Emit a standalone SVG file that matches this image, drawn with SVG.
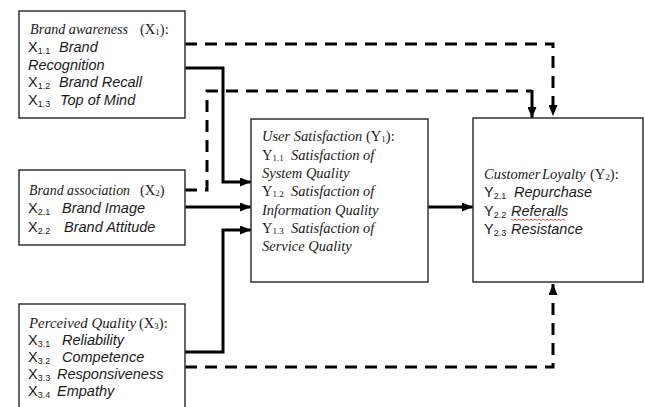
<svg xmlns="http://www.w3.org/2000/svg" width="645" height="407" viewBox="0 0 645 407">
<defs>
<marker id="ah" markerUnits="userSpaceOnUse" markerWidth="11" markerHeight="9" refX="11" refY="4.5" orient="auto">
<path d="M0,0 L11,4.5 L0,9 z" fill="#000"/>
</marker>
<style>
.box{fill:#fff;stroke:#333;stroke-width:1.5}
.c{fill:none;stroke:#000;stroke-width:3}
.d{fill:none;stroke:#000;stroke-width:3;stroke-dasharray:12 8}
text{fill:#1a1a1a}
.ti{font-family:"Liberation Serif","Times New Roman",serif;font-style:italic;font-size:14.5px}
.tr{font-family:"Liberation Serif","Times New Roman",serif;font-size:14.5px}
.si{font-family:"Liberation Sans",Arial,sans-serif;font-style:italic;font-size:14.5px}
.sr{font-family:"Liberation Sans",Arial,sans-serif;font-size:14.5px}
.sub{font-size:9px}
</style>
</defs>
<rect width="645" height="407" fill="#fff"/>

<g id="connectors">
<path class="d" d="M185,44 H553 V116" marker-end="url(#ah)"/>
<path class="d" d="M185,190 H207 V91 H532"/>
<path class="c" d="M532,90 V118" marker-end="url(#ah)"/>
<path class="c" d="M185,68 H223 V182 H251" marker-end="url(#ah)"/>
<path class="c" d="M185,207 H251" marker-end="url(#ah)"/>
<path class="c" d="M185,352 H223 V230 H251" marker-end="url(#ah)"/>
<path class="c" d="M428,207 H473" marker-end="url(#ah)"/>
<path class="d" d="M185,367 H553 V284" marker-end="url(#ah)"/>
</g>

<g id="x1">
<rect class="box" x="19" y="11" width="166" height="107"/>
<text y="34"><tspan x="30" class="ti" textLength="98" lengthAdjust="spacingAndGlyphs">Brand awareness</tspan><tspan x="140" class="tr">(X<tspan class="sub" dy="1">1</tspan><tspan dy="-1">):</tspan></tspan></text>
<text y="52" class="sr"><tspan x="28">X</tspan><tspan class="sub" dy="2">1.1</tspan><tspan x="59" dy="-2" class="si">Brand</tspan></text>
<text y="70" x="28" class="si">Recognition</text>
<text y="87" class="sr"><tspan x="28">X</tspan><tspan class="sub" dy="2">1.2</tspan><tspan x="59" dy="-2" class="si">Brand Recall</tspan></text>
<text y="105" class="sr"><tspan x="28">X</tspan><tspan class="sub" dy="2">1.3</tspan><tspan x="60" dy="-2" class="si">Top of Mind</tspan></text>
</g>

<g id="x2">
<rect class="box" x="19" y="170" width="166" height="75"/>
<text y="195"><tspan x="29" class="ti" textLength="101" lengthAdjust="spacingAndGlyphs">Brand association</tspan><tspan x="140" class="tr">(X<tspan class="sub" dy="1">2</tspan><tspan dy="-1">)</tspan></tspan></text>
<text y="213" class="sr"><tspan x="28">X</tspan><tspan class="sub" dy="2">2.1</tspan><tspan x="62" dy="-2" class="si">Brand Image</tspan></text>
<text y="232" class="sr"><tspan x="28">X</tspan><tspan class="sub" dy="2">2.2</tspan><tspan x="64" dy="-2" class="si">Brand Attitude</tspan></text>
</g>

<g id="x3">
<rect class="box" x="19" y="304" width="166" height="110"/>
<text y="328"><tspan x="29" class="ti" textLength="107" lengthAdjust="spacingAndGlyphs">Perceived Quality</tspan><tspan x="139" class="tr">(X<tspan class="sub" dy="1">3</tspan><tspan dy="-1">):</tspan></tspan></text>
<text y="345" class="sr"><tspan x="28">X</tspan><tspan class="sub" dy="2">3.1</tspan><tspan x="62" dy="-2" class="si">Reliability</tspan></text>
<text y="362" class="sr"><tspan x="28">X</tspan><tspan class="sub" dy="2">3.2</tspan><tspan x="62" dy="-2" class="si">Competence</tspan></text>
<text y="379" class="sr"><tspan x="28">X</tspan><tspan class="sub" dy="2">3.3</tspan><tspan x="57" dy="-2" class="si">Responsiveness</tspan></text>
<text y="396" class="sr"><tspan x="28">X</tspan><tspan class="sub" dy="2">3.4</tspan><tspan x="57" dy="-2" class="si">Empathy</tspan></text>
</g>

<g id="y1">
<rect class="box" x="251" y="119" width="177" height="163"/>
<text y="141"><tspan x="262" class="ti">User Satisfaction</tspan><tspan x="366" class="tr">(Y<tspan class="sub" dy="1">1</tspan><tspan dy="-1">):</tspan></tspan></text>
<text y="160" class="tr"><tspan x="262">Y</tspan><tspan class="sub" dy="1">1.1</tspan><tspan x="291" dy="-1" class="ti">Satisfaction of</tspan></text>
<text y="178" x="262" class="ti">System Quality</text>
<text y="196" class="tr"><tspan x="262">Y</tspan><tspan class="sub" dy="1">1.2</tspan><tspan x="291" dy="-1" class="ti">Satisfaction of</tspan></text>
<text y="215" x="262" class="ti">Information Quality</text>
<text y="233" class="tr"><tspan x="262">Y</tspan><tspan class="sub" dy="1">1.3</tspan><tspan x="291" dy="-1" class="ti">Satisfaction of</tspan></text>
<text y="251" x="262" class="ti">Service Quality</text>
</g>

<g id="y2">
<rect class="box" x="473" y="118" width="170" height="164"/>
<text y="179"><tspan x="484" class="ti">Customer</tspan><tspan x="542" class="ti">Loyalty</tspan><tspan x="590" class="tr">(Y<tspan class="sub" dy="1">2</tspan><tspan dy="-1">):</tspan></tspan></text>
<text y="197" class="sr"><tspan x="484">Y</tspan><tspan class="sub" dy="2">2.1</tspan><tspan x="514" dy="-2" class="si">Repurchase</tspan></text>
<text y="216" class="sr"><tspan x="484">Y</tspan><tspan class="sub" dy="2">2.2</tspan><tspan x="511" dy="-2" class="si">Referalls</tspan></text>
<path d="M511,219 l2,1.5 l2,-1.5 l2,1.5 l2,-1.5 l2,1.5 l2,-1.5 l2,1.5 l2,-1.5 l2,1.5 l2,-1.5 l2,1.5 l2,-1.5 l2,1.5 l2,-1.5 l2,1.5 l2,-1.5 l2,1.5 l2,-1.5 l2,1.5 l2,-1.5 l2,1.5 l2,-1.5 l2,1.5 l2,-1.5 l2,1.5 l2,-1.5 l2,1.5" fill="none" stroke="#e03030" stroke-width="0.8"/>
<text y="234" class="sr"><tspan x="484">Y</tspan><tspan class="sub" dy="2">2.3</tspan><tspan x="511" dy="-2" class="si">Resistance</tspan></text>
</g>
</svg>
